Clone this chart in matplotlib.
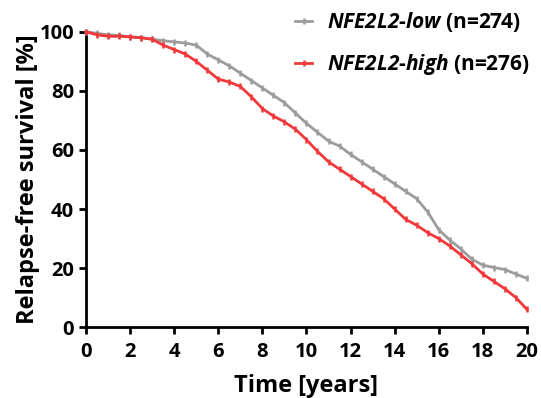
import matplotlib
matplotlib.use("Agg")
import matplotlib.pyplot as plt

# Relapse-free survival (years, %)
years = [0, 0.5, 1, 1.5, 2, 2.5, 3, 3.5, 4, 4.5, 5, 5.5, 6, 6.5, 7, 7.5, 8, 8.5, 9, 9.5,
         10, 10.5, 11, 11.5, 12, 12.5, 13, 13.5, 14, 14.5, 15, 15.5, 16, 16.5, 17, 17.5,
         18, 18.5, 19, 19.5, 20]
low_surv = [100, 99.5, 99, 98.8, 98.3, 98, 97.5, 97, 96.6, 96.2, 95.5, 92.5, 90.5, 88.5,
            86, 83.5, 81, 78.5, 76, 72.5, 69, 66, 63, 61.3, 58.5, 56, 53.5, 51, 48.5, 46,
            43.5, 39, 33, 29.5, 26.5, 23, 21, 20.2, 19.5, 18, 16.5]
high_surv = [100, 99, 98.5, 98.5, 98.3, 98, 97.5, 95.5, 94, 92.5, 90, 87, 84, 83, 81.5,
             78, 74, 71.5, 69.5, 67, 63.5, 59.5, 56, 53.5, 51, 48.5, 46, 43.5, 40, 36.5,
             34.5, 32, 30, 27.5, 24.5, 21.5, 18, 15.5, 13, 10, 6]

labels = ["$NFE2L2$-$low$ (n=274)", "$NFE2L2$-$high$ (n=276)"]
colors = ["#9c9c9c", "#f0393b"]

plt.rcParams['font.family'] = 'Open Sans'
plt.rcParams['font.weight'] = 'bold'
plt.rcParams['mathtext.fontset'] = 'custom'
plt.rcParams['mathtext.rm'] = 'Open Sans:italic:bold'
plt.rcParams['mathtext.it'] = 'Open Sans:italic:bold'

fig = plt.figure(figsize=(5.41, 3.98), dpi=100)
ax = fig.add_axes([0.159, 0.178, 0.815, 0.742])

for surv, col, lab in zip([low_surv, high_surv], colors, labels):
    ax.plot(years, surv, color=col, lw=2, marker='|', ms=5, mew=1.8,
            label=lab, clip_on=False, zorder=3)

ax.set_xlim(0, 20)
ax.set_ylim(0, 100)
ax.set_xticks(range(0, 21, 2))
ax.set_yticks(range(0, 101, 20))
for side in ['top', 'right']:
    ax.spines[side].set_visible(False)
for side in ['left', 'bottom']:
    ax.spines[side].set_linewidth(2)
ax.tick_params(width=2, length=5, labelsize=14.5)
ax.tick_params(axis='x', pad=6)

ax.set_xlabel("Time [years]", fontsize=17, fontweight='bold', labelpad=8)
ax.set_ylabel("Relapse-free survival [%]", fontsize=17, fontweight='bold', labelpad=0)

ax.legend(loc='upper right', bbox_to_anchor=(1.047, 1.137), frameon=False, fontsize=15,
          numpoints=1, handlelength=0.8, handletextpad=0.7, labelspacing=0.85)

fig.savefig("out.png", dpi=100)
